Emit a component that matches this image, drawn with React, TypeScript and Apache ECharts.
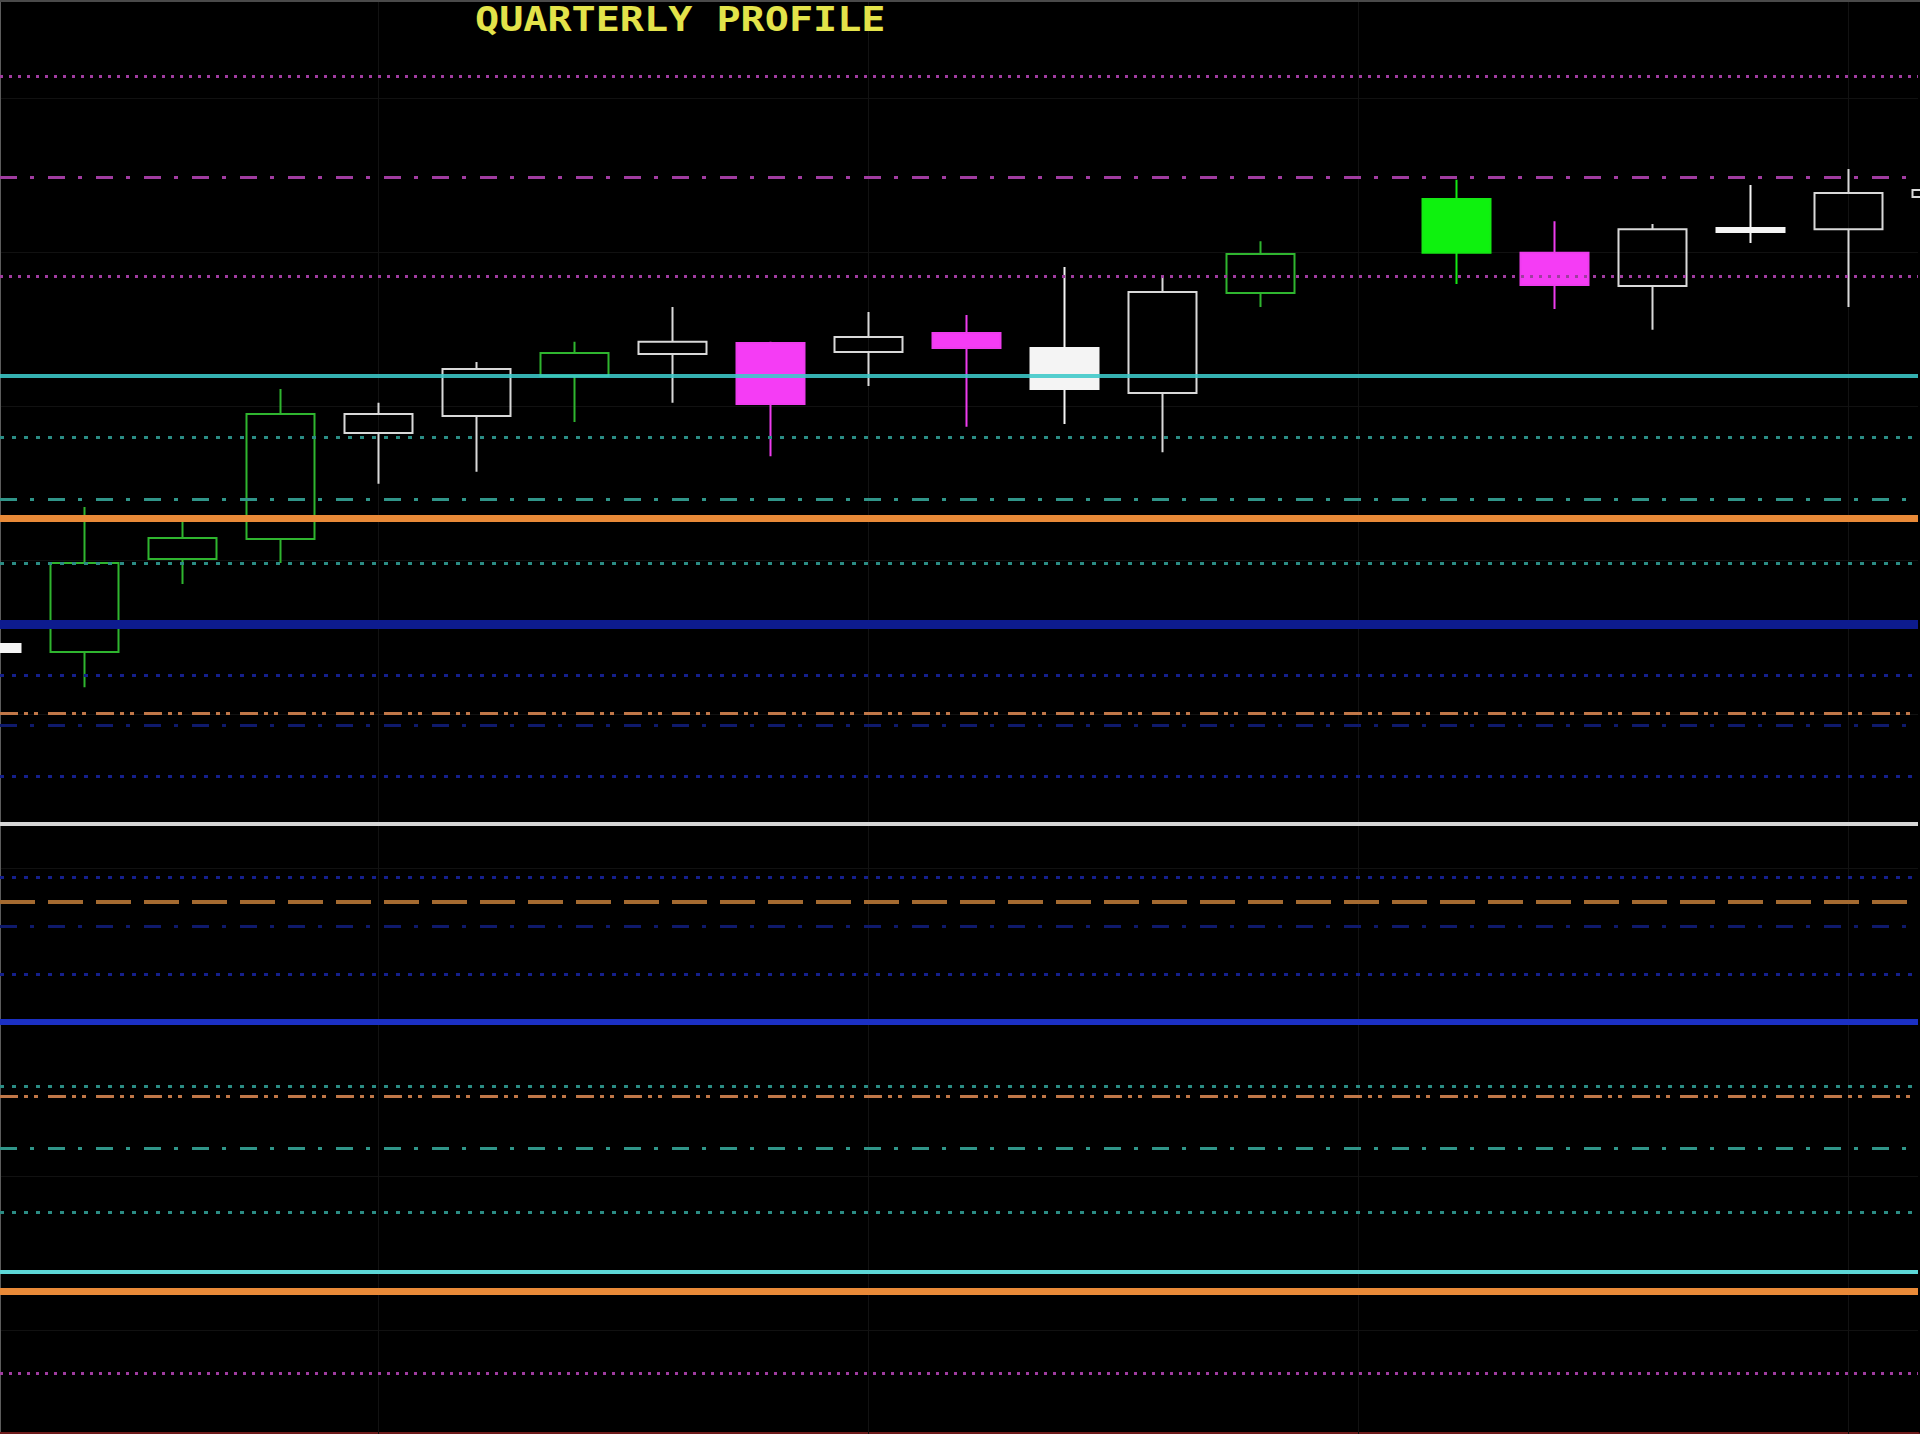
import React, { useEffect, useRef } from "react";
import * as echarts from "echarts";

const TITLE = "QUARTERLY PROFILE";

// bar number of each candle (bar -1 and bar 19 are only partly inside the window, bar 13 has no candle)
const barIndex = [-1, 0, 1, 2, 3, 4, 5, 6, 7, 8, 9, 10, 11, 12, 13, 14, 15, 16, 17, 18, 19];
const opens = [4222.7, 4220.1, 4250.3, 4256.8, 4291.2, 4296.7, 4309.7, 4316.9, 4320.4, 4317.5, 4323.7, 4318.8, 4304.2, 4336.7, null, 4367.2, 4349.7, 4338.9, 4357.8, 4357.4, 4367.8];
const closes = [4220.1, 4249.0, 4257.1, 4297.4, 4297.4, 4312.0, 4317.2, 4320.8, 4300.6, 4322.4, 4318.8, 4305.5, 4337.0, 4349.3, null, 4349.7, 4339.3, 4357.4, 4356.5, 4369.1, 4370.1];
const lows = [4219.5, 4208.7, 4242.2, 4249.0, 4274.7, 4278.6, 4294.8, 4301.0, 4283.7, 4306.5, 4293.2, 4294.1, 4285.0, 4332.1, null, 4339.6, 4331.5, 4324.7, 4352.9, 4332.1, 4367.8];
const highs = [4223.4, 4267.2, 4263.6, 4305.5, 4301.0, 4314.3, 4320.8, 4332.1, 4320.8, 4330.5, 4329.5, 4345.1, 4342.2, 4353.5, null, 4373.4, 4360.0, 4359.1, 4371.7, 4376.9, 4370.1];
const candleKind = [
  "whiteFill", "greenHollow", "greenHollow", "greenHollow", "whiteHollow", "whiteHollow",
  "greenHollow", "whiteHollow", "magentaFill", "whiteHollow", "magentaFill", "whiteFill",
  "whiteHollow", "greenHollow", null, "greenFill", "magentaFill", "whiteHollow",
  "whiteFill", "whiteHollow", "whiteHollow",
];

// horizontal profile levels, top to bottom
const levelPrices = [
  4407.1, 4374.3, 4342.2, 4309.7, 4289.9, 4269.8, 4263.6, 4249.0, 4229.2, 4212.6,
  4200.3, 4196.4, 4179.9, 4164.3, 4147.1, 4138.9, 4131.2, 4115.6, 4100.0, 4079.2,
  4076.0, 4059.1, 4038.3, 4018.8, 4012.6, 3986.0,
];
const levelKind = [
  "magDot", "magDashDot", "magDot", "cyanSolid", "tealDot", "tealDashDot", "orangeSolid",
  "tealDot", "navySolid", "blueDot", "orangeDashDot2", "blueDashDot", "blueDot",
  "whiteSolid", "blueDot", "orangeDashed", "blueDashDot", "blueDot", "blueSolid",
  "tealDot", "orangeDashDot2", "tealDashDot", "tealDot", "cyanThin", "orangeSolid", "magDot",
];

// bars that carry a vertical grid line
const gridBars = [3, 8, 13, 18];

// visible window
const priceMin = 3966.2;
const priceMax = 4431.8;
const barMin = -0.862;
const barMax = 18.709;

const CANDLE_STYLE: Record<string, { fill: string; stroke: string }> = {
  greenHollow: { fill: "rgba(0,0,0,0)", stroke: "#2fb52f" },
  whiteHollow: { fill: "rgba(0,0,0,0)", stroke: "#d9d9d9" },
  whiteFill: { fill: "#f4f4f4", stroke: "#f4f4f4" },
  magentaFill: { fill: "#f53cf5", stroke: "#ee3cee" },
  greenFill: { fill: "#0ef20e", stroke: "#14e814" },
};

const LINE_STYLE: Record<string, any> = {
  magDot: { color: "#a03ca0", width: 3, type: [3, 6] },
  magDashDot: { color: "#a03ca0", width: 3, type: [17, 13, 4, 14] },
  cyanSolid: { color: "#3cc8c8", width: 4, type: "solid", opacity: 0.88 },
  tealDot: { color: "#2b8c84", width: 3, type: [4, 8] },
  tealDashDot: { color: "#309589", width: 3, type: [17, 13, 4, 14] },
  orangeSolid: { color: "#e98a38", width: 7, type: "solid" },
  navySolid: { color: "#0d1b8e", width: 9, type: "solid" },
  blueDot: { color: "#15208c", width: 3, type: [4, 8] },
  orangeDashDot2: { color: "#c07748", width: 3, type: [18, 6, 4, 6, 4, 10] },
  blueDashDot: { color: "#0f1a6c", width: 3, type: [17, 13, 4, 14] },
  whiteSolid: { color: "#d6d6d6", width: 4, type: "solid" },
  orangeDashed: { color: "#a46a30", width: 4, type: [35, 13] },
  blueSolid: { color: "#1b30c4", width: 6, type: "solid" },
  cyanThin: { color: "#5cd6d6", width: 4, type: "solid" },
};

export default function App() {
  const ref = useRef<HTMLDivElement>(null);

  useEffect(() => {
    document.body.style.margin = "0";
    document.body.style.background = "#000";
    if (!ref.current) return;
    const chart = echarts.init(ref.current, null, { renderer: "svg" });

    const candleData: any[] = [];
    barIndex.forEach((x, i) => {
      if (opens[i] == null) return;
      const s = CANDLE_STYLE[candleKind[i] as string];
      candleData.push({
        value: [x, opens[i], closes[i], lows[i], highs[i]],
        itemStyle: {
          color: s.fill,
          color0: s.fill,
          borderColor: s.stroke,
          borderColor0: s.stroke,
          borderColorDoji: s.stroke,
          borderWidth: 2,
        },
      });
    });

    chart.setOption({
      animation: false,
      backgroundColor: "#000000",
      grid: { left: 0, right: 2, top: 0, bottom: 0, containLabel: false, outerBoundsMode: "none" },
      xAxis: {
        type: "value",
        min: barMin,
        max: barMax,
        axisLine: { show: true, onZero: false, lineStyle: { color: "#6e1b1b", width: 4 } },
        axisTick: { show: false },
        axisLabel: { show: false },
        splitLine: { show: false },
      },
      yAxis: {
        type: "value",
        min: priceMin,
        max: priceMax,
        splitNumber: 9,
        axisLine: { show: true, onZero: false, lineStyle: { color: "#5c5c5c", width: 2 } },
        axisTick: { show: false },
        axisLabel: { show: false },
        splitLine: {
          show: true,
          showMinLine: false,
          showMaxLine: false,
          lineStyle: { color: "#111111", width: 1 },
        },
      },
      graphic: [
        {
          type: "line",
          shape: { x1: 0, y1: 1, x2: 1920, y2: 1 },
          style: { stroke: "#4a4a4a", lineWidth: 2 },
          silent: true,
          z: 10,
        },
        {
          type: "text",
          x: 475,
          y: 19,
          scaleX: 1.18,
          scaleY: 1,
          silent: true,
          z: 10,
          style: {
            text: TITLE,
            fill: "#e3e34a",
            fontSize: 34,
            lineHeight: 32,
            fontWeight: "bold",
            fontFamily: "DejaVu Sans Mono",
            align: "left",
            verticalAlign: "middle",
            textAlign: "left",
            textVerticalAlign: "middle",
          },
        },
      ],
      series: [
        {
          type: "line",
          data: [],
          silent: true,
          z: 1,
          markLine: {
            silent: true,
            z: 1,
            symbol: ["none", "none"],
            label: { show: false },
            lineStyle: { color: "#121212", width: 1, type: "solid" },
            data: gridBars.map((b) => ({ xAxis: b })),
          },
        },
        {
          type: "candlestick",
          data: candleData,
          barWidth: 68,
          clip: true,
          z: 2,
          markLine: {
            silent: true,
            z: 5,
            symbol: ["none", "none"],
            label: { show: false },
            data: levelPrices.map((p, i) => ({ yAxis: p, lineStyle: LINE_STYLE[levelKind[i]] })),
          },
        },
      ],
    });

    return () => {
      chart.dispose();
    };
  }, []);

  return <div ref={ref} style={{ width: 1920, height: 1434, background: "#000" }} />;
}
